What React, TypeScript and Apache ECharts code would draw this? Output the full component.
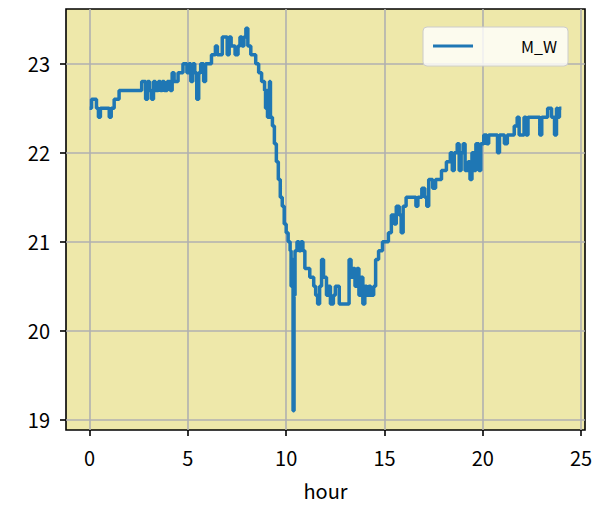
import React, { useEffect, useRef } from "react";
import * as echarts from "echarts";

const seriesName = "M_W";
const xTicks = [0, 5, 10, 15, 20, 25];
const yTicks = [19, 20, 21, 22, 23];

const hours = [
  0.0, 0.1, 0.35, 0.45, 0.55, 1.0, 1.1, 1.25, 1.5, 2.65, 2.85, 2.95, 3.05, 3.15, 3.25, 3.35, 3.5, 3.6, 3.7, 3.8,
  3.95, 4.1, 4.2, 4.3, 4.5, 4.75, 4.95, 5.05, 5.15, 5.25, 5.35, 5.45, 5.55, 5.65, 5.8, 5.9, 6.2, 6.4, 6.5, 6.75,
  7.0, 7.1, 7.2, 7.4, 7.55, 7.65, 7.75, 7.85, 7.95, 8.05, 8.2, 8.45, 8.6, 8.75, 8.9, 8.95, 9.0, 9.05, 9.1, 9.15,
  9.2, 9.3, 9.4, 9.5, 9.6, 9.7, 9.8, 9.9, 10.0, 10.1, 10.2, 10.25, 10.3, 10.35, 10.4, 10.45, 10.55, 10.65, 10.75, 10.85,
  10.95, 11.2, 11.4, 11.5, 11.6, 11.7, 11.8, 11.9, 12.05, 12.15, 12.25, 12.4, 12.5, 12.7, 13.2, 13.3, 13.4, 13.5, 13.6, 13.7,
  13.8, 13.9, 14.0, 14.1, 14.2, 14.3, 14.45, 14.55, 14.7, 14.9, 15.2, 15.35, 15.5, 15.6, 15.75, 15.85, 15.95, 16.1, 16.6, 16.7,
  16.9, 17.05, 17.15, 17.25, 17.45, 17.6, 17.9, 18.15, 18.35, 18.45, 18.55, 18.7, 18.8, 18.9, 19.0, 19.1, 19.25, 19.35, 19.45, 19.55,
  19.65, 19.8, 19.9, 20.05, 20.2, 20.3, 20.75, 20.85, 21.1, 21.25, 21.6, 21.75, 21.85, 22.1, 22.2, 22.3, 22.9, 23.0, 23.3, 23.5,
  23.65, 23.75, 23.8, 23.9, 24.0,
];

const temps = [
  22.5, 22.6, 22.5, 22.4, 22.5, 22.4, 22.5, 22.6, 22.7, 22.8, 22.6, 22.8, 22.7, 22.6, 22.8, 22.7, 22.8, 22.7, 22.8, 22.7,
  22.8, 22.7, 22.9, 22.8, 22.9, 23.0, 22.9, 23.0, 22.8, 23.0, 22.9, 22.6, 22.9, 23.0, 22.8, 23.0, 23.1, 23.2, 23.1, 23.3,
  23.1, 23.3, 23.2, 23.1, 23.2, 23.3, 23.2, 23.3, 23.4, 23.2, 23.1, 23.0, 22.9, 22.8, 22.7, 22.5, 22.7, 22.4, 22.6, 22.8,
  22.4, 22.3, 22.1, 21.9, 21.7, 21.5, 21.4, 21.2, 21.1, 21.0, 20.9, 20.5, 20.8, 19.1, 20.4, 20.9, 21.0, 20.9, 21.0, 20.9,
  20.7, 20.6, 20.5, 20.4, 20.3, 20.5, 20.8, 20.6, 20.4, 20.5, 20.3, 20.4, 20.5, 20.3, 20.8, 20.6, 20.7, 20.5, 20.7, 20.4,
  20.6, 20.3, 20.5, 20.4, 20.5, 20.4, 20.5, 20.8, 20.9, 21.0, 21.1, 21.3, 21.2, 21.4, 21.3, 21.1, 21.4, 21.5, 21.4, 21.5,
  21.6, 21.5, 21.4, 21.7, 21.6, 21.7, 21.8, 21.9, 22.0, 21.8, 22.0, 22.1, 21.8, 22.0, 22.1, 21.8, 21.9, 21.7, 22.0, 21.8,
  22.1, 21.8, 22.1, 22.2, 22.1, 22.2, 22.0, 22.2, 22.1, 22.2, 22.3, 22.4, 22.2, 22.4, 22.2, 22.4, 22.2, 22.4, 22.5, 22.4,
  22.2, 22.5, 22.4, 22.5, 22.5,
];

const FONT = "'Noto Sans CJK JP', 'Noto Sans', sans-serif";

export default function App() {
  const ref = useRef<HTMLDivElement>(null);
  useEffect(() => {
    if (!ref.current) return;
    const chart = echarts.init(ref.current, null, { renderer: "svg" });
    const data = hours.map((h, i) => [h, temps[i]]);
    chart.setOption({
      animation: false,
      backgroundColor: "#ffffff",
      grid: {
        left: 66,
        right: 15,
        top: 9,
        bottom: 90,
        show: true,
        backgroundColor: "#eee8aa",
        borderColor: "#000000",
        borderWidth: 1.6,
      },
      xAxis: {
        type: "value",
        min: -1.2,
        max: 25.2,
        name: "hour",
        nameLocation: "middle",
        nameGap: 50,
        nameTextStyle: { fontFamily: FONT, fontSize: 20, color: "#000" },
        axisLine: { show: false, onZero: false },
        axisTick: { show: true, length: 6, lineStyle: { color: "#000", width: 1.6 }, customValues: xTicks },
        axisLabel: { customValues: xTicks, fontFamily: FONT, fontSize: 20, color: "#000", margin: 17 },
        splitLine: { show: true, lineStyle: { color: "#b0b0b0", width: 1.6 } },
      },
      yAxis: {
        type: "value",
        min: 18.885,
        max: 23.615,
        axisLine: { show: false, onZero: false },
        axisTick: { show: true, length: 6, lineStyle: { color: "#000", width: 1.6 }, customValues: yTicks },
        axisLabel: { customValues: yTicks, fontFamily: FONT, fontSize: 20, color: "#000", margin: 16 },
        splitLine: { show: true, lineStyle: { color: "#b0b0b0", width: 1.6 } },
      },
      legend: {
        right: 32,
        top: 27,
        orient: "vertical",
        icon: "rect",
        itemWidth: 40,
        itemHeight: 3,
        padding: [11, 11, 12, 10],
        backgroundColor: "rgba(255,255,255,0.8)",
        borderColor: "#cccccc",
        borderWidth: 1,
        borderRadius: 4,
        textStyle: { fontFamily: FONT, fontSize: 16, color: "#000", padding: [0, 0, 0, 43] },
        data: [seriesName],
      },
      series: [
        {
          name: seriesName,
          type: "line",
          step: "end",
          showSymbol: false,
          data,
          lineStyle: { color: "#1f77b4", width: 3.5 },
          itemStyle: { color: "#1f77b4" },
        },
      ],
    });
    return () => chart.dispose();
  }, []);
  return <div ref={ref} style={{ position: "fixed", left: 0, top: 0, width: 600, height: 520 }} />;
}
